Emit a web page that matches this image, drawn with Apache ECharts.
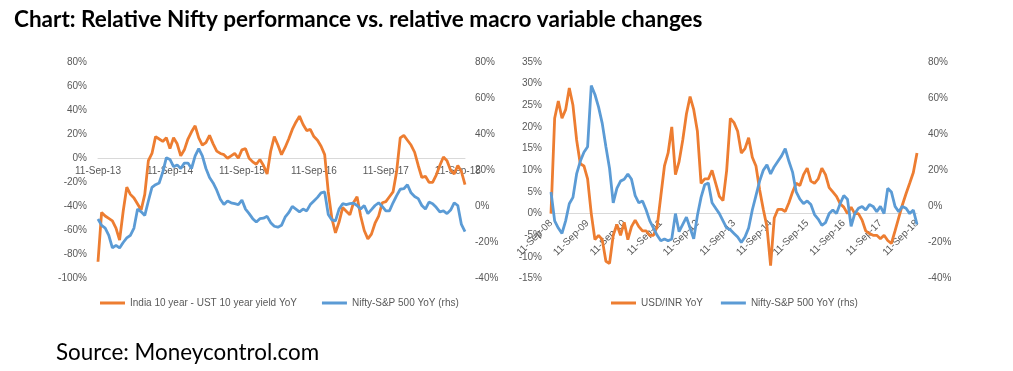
<!DOCTYPE html>
<html><head><meta charset="utf-8">
<script src="https://cdn.jsdelivr.net/npm/echarts@6/dist/echarts.min.js"></script>
<style>html,body{margin:0;padding:0;background:#fff}#c{width:1013px;height:371px}</style>
</head><body><div id="c"></div><script>
// ---- data ----
const LEFT_STEP = 0.05;   // years between samples, left chart (from 11-Sep-13)
const RIGHT_STEP = 0.1;   // years between samples, right chart (from 11-Sep-08)
const leftTickLabels = ['11-Sep-13','11-Sep-14','11-Sep-15','11-Sep-16','11-Sep-17','11-Sep-18'];
const rightTickLabels = ['11-Sep-08','11-Sep-09','11-Sep-10','11-Sep-11','11-Sep-12','11-Sep-13','11-Sep-14','11-Sep-15','11-Sep-16','11-Sep-17','11-Sep-18'];
const leftNames = ['India 10 year - UST 10 year yield YoY', 'Nifty-S&P 500 YoY (rhs)'];
const rightNames = ['USD/INR YoY', 'Nifty-S&P 500 YoY (rhs)'];

const leftOrange = [-86,-45,-48,-50,-52,-58,-68,-44,-24,-30,-33,-38,-43,-30,-2,4,18,16,14,17,
  8,17,12,2,7,16,22,27,17,11,13,19,12,6,4,3,0,2,4,0,
  7,8,0,-3,-5,-1,-6,-13,6,18,11,3,9,16,24,30,35,28,23,24,
  18,15,10,3,-28,-50,-62,-53,-41,-44,-47,-37,-32,-48,-60,-67,-63,-54,-48,-37,
  -36,-32,-28,-11,17,19,15,11,5,-6,-16,-15,-20,-20,-14,-6,1,-2,-10,-13,
  -6,-11,-22];
const leftBlue = [-7,-10.5,-12,-16,-23,-21.6,-23,-20,-17.5,-16,-12,-1.5,-3,-5,3,10.5,12,13,19,27,
  26,22,23,21,24,24,21,28,32,28,21,16,13,9,4,1,3,2,1.5,1,
  3.5,-1.5,-4,-6.8,-8.7,-6.8,-6.5,-5.5,-9,-11,-11.5,-10.5,-6,-3.5,0,-1.5,-3,-1.5,-2.5,1,
  3,5,7.5,8,-4.5,-7.5,-8,-1.5,1.5,1,1.5,1.8,0.5,-1.5,0.5,-4,-1.8,0.5,2,0,
  -2.5,-2.5,2,6,9.5,9.8,12,7.5,5.5,4.3,0.5,-1.5,2.4,1.5,-0.5,-3,-2.5,-4,-2,2,
  0.5,-10,-14];
const rightOrange = [0,22,26,22,24,29,25,17,11.5,11,
  8,0,-6,-5,-6,-11,-11.5,-5,-2.5,-5,
  -2,-6,-3,-1.5,-3,-4,-4,-5,-5,-3,
  4,11,14,20,9,12,17,23,27,24,
  19,7,8,8,10,7,4,3,10,22,
  21,19,14,15,17.5,13,11,5.5,1,-3,
  -12,-1,1,1,0.5,2.5,5,7,6.5,9,
  10.5,7.5,7,8,10.5,9,6,5,4,2.3,
  1.5,0,1.5,0,0,-1.5,-4,-4.6,-5,-5,
  -5.8,-5,-6.2,-6.9,-4,-1,2,4.6,7,9.5,
  14];
const rightBlue = [8,-8,-12,-15,-8,1.5,5,18,25,30,
  33,67,62,55,46,33,21,2,10,14,
  15,18,15,6,2,3,-2,-8,-12,-16,
  -19,-18,-19,-18,-4,-14,-10,-6,-12,-18,
  -5,5,12,13,2,-1,-4,-8,-12,-13,
  -15,-17,-20,-17,-12,-2,6,14,20,23,
  18,22,25,28,32,25,19,8,4,1.5,
  3,1,-4.5,-7,-10.5,-9,-4,-2,-4,1.5,
  6,4,-11,-4,-1,0,-2,1,0,-3,
  0,-4,10,8,0,-3,0,-1,-4,-2,
  -10];

// ---- build ----
const ORANGE = '#ED7D31', BLUE = '#5B9BD5', GREY = '#595959';
const FONT = 'Liberation Sans';
const GRID_TOP = 62, GRID_H = 216.6;
function pairs(arr, step) { return arr.map((v, i) => [+(i * step).toFixed(4), v]); }
function pct(v) { return v + '%'; }
// distance (px) from grid bottom up to the zero line of a y axis
function zeroOffset(min, max) { return -GRID_H * (0 - min) / (max - min); }
function yAx(grid, pos, min, max, interval, margin) {
  return { type: 'value', gridIndex: grid, position: pos, min, max, interval,
    axisLine: { show: false }, axisTick: { show: false }, splitLine: { show: false },
    axisLabel: { formatter: pct, color: GREY, fontSize: 10, fontFamily: FONT, margin } };
}
function xAx(grid, max, labels, offset, rotate, margin) {
  return { type: 'value', gridIndex: grid, min: 0, max, interval: 1, position: 'bottom', offset,
    axisLine: { show: true, onZero: false, lineStyle: { color: '#d9d9d9', width: 1 } },
    axisTick: { show: false }, splitLine: { show: false },
    axisLabel: { color: GREY, fontSize: 10, fontFamily: FONT, rotate, margin, showMaxLabel: true,
      formatter: v => (Math.abs(v - Math.round(v)) < 1e-6 && labels[Math.round(v)]) ? labels[Math.round(v)] : '' } };
}
function line(name, data, xi, yi, color) {
  return { type: 'line', name, data, xAxisIndex: xi, yAxisIndex: yi, showSymbol: false, symbol: 'none',
    lineStyle: { color, width: 2.8 }, itemStyle: { color }, animation: false };
}
const Y = [[-100, 80, 20], [-40, 80, 20], [-15, 35, 5], [-40, 80, 20]];
const chart = echarts.init(document.getElementById('c'), null, { renderer: 'canvas' });
chart.setOption({
  backgroundColor: '#fff',
  animation: false,
  title: [
    { text: 'Chart: Relative Nifty performance vs. relative macro variable changes', left: 9, top: 3,
      textStyle: { fontFamily: 'Lato', fontWeight: 'bold', fontSize: 22.5, color: '#000' } },
    { text: 'Source: Moneycontrol.com', left: 51, top: 337,
      textStyle: { fontFamily: 'Lato', fontWeight: 'normal', fontSize: 22.4, color: '#000' } }
  ],
  legend: [
    { left: 95, top: 293, icon: 'rect', itemWidth: 25, itemHeight: 3, itemGap: 25, data: leftNames,
      textStyle: { color: GREY, fontSize: 10, fontFamily: FONT } },
    { left: 606, top: 293, icon: 'rect', itemWidth: 25, itemHeight: 3, itemGap: 18, data: rightNames,
      textStyle: { color: GREY, fontSize: 10, fontFamily: FONT } }
  ],
  grid: [
    { left: 98, top: GRID_TOP, width: 367, height: GRID_H },
    { left: 551, top: GRID_TOP, width: 366, height: GRID_H }
  ],
  xAxis: [
    xAx(0, 5.1, leftTickLabels, zeroOffset(Y[0][0], Y[0][1]), 0, 8),
    xAx(1, 10, rightTickLabels, zeroOffset(Y[2][0], Y[2][1]), 45, 8)
  ],
  yAxis: [
    yAx(0, 'left', Y[0][0], Y[0][1], Y[0][2], 11),
    yAx(0, 'right', Y[1][0], Y[1][1], Y[1][2], 10),
    yAx(1, 'left', Y[2][0], Y[2][1], Y[2][2], 9),
    yAx(1, 'right', Y[3][0], Y[3][1], Y[3][2], 11)
  ],
  series: [
    line(leftNames[0], pairs(leftOrange, LEFT_STEP), 0, 0, ORANGE),
    line(leftNames[1], pairs(leftBlue, LEFT_STEP), 0, 1, BLUE),
    line(rightNames[0], pairs(rightOrange, RIGHT_STEP), 1, 2, ORANGE),
    line(rightNames[1], pairs(rightBlue, RIGHT_STEP), 1, 3, BLUE)
  ]
});
</script></body></html>
